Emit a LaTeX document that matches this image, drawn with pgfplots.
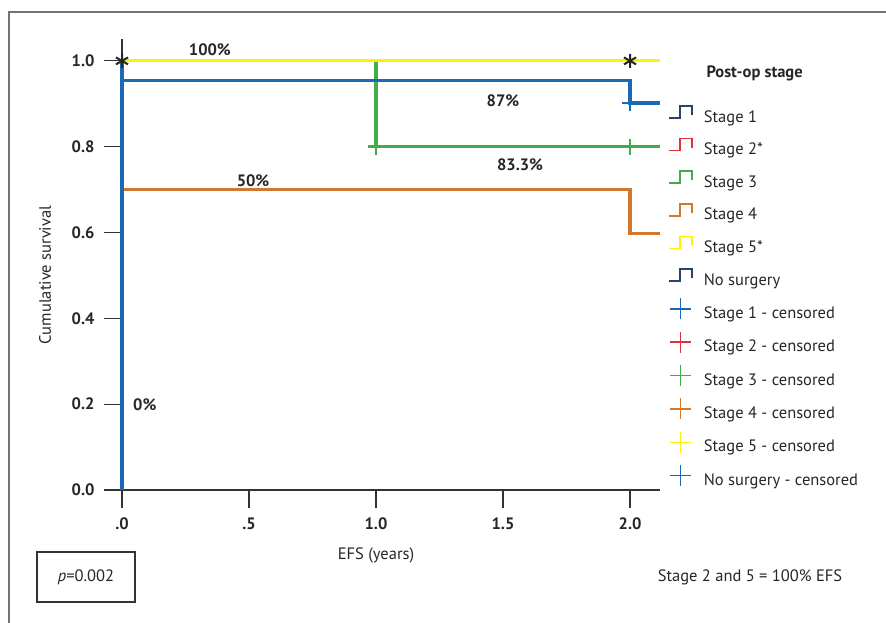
\documentclass[border=0pt]{standalone}
\usepackage{pgfplots}
\pgfplotsset{compat=1.18}
\usepackage{fontspec}
\setmainfont{PT Sans}
\definecolor{cblue}{HTML}{1B68B4}
\definecolor{cnavy}{HTML}{2A4468}
\definecolor{cred}{HTML}{E0313B}
\definecolor{cgreen}{HTML}{3FAE49}
\definecolor{corange}{HTML}{D2792E}
\definecolor{cyellow}{HTML}{FFF200}
\definecolor{caxis}{HTML}{333333}
\newcommand{\fs}{\fontsize{16.5}{19}\selectfont}
\pgfplotsset{
  stepicon/.style={legend image code/.code={%
    \path[draw=none,fill=none] (0pt,-6pt) rectangle (35pt,16pt);
    \draw[line width=1.7pt] (0pt,0pt) -- (11pt,0pt) -- (11pt,12pt) -- (23pt,12pt) -- (23pt,3pt);}},
  plusicon/.style={legend image code/.code={%
    \path[draw=none,fill=none] (0pt,-6pt) rectangle (35pt,16pt);
    \draw[line width=1.5pt] (1pt,5.5pt) -- (22pt,5.5pt) (11.5pt,-5pt) -- (11.5pt,16pt);}},
}
\begin{document}
\begin{tikzpicture}[x=1pt,y=1pt]
\useasboundingbox (0,0) rectangle (886,623);
\draw[black!55, line width=1.2pt] (9,0) -- (9,611) -- (886,611);
\begin{axis}[
  at={(122pt,133pt)}, anchor=south west, scale only axis,
  width=538pt, height=451pt,
  xmin=0, xmax=2.118, ymin=0, ymax=1.051,
  axis lines*=left,
  axis line style={line width=1.2pt, caxis},
  xtick={0,0.5,1,1.5,2},
  xticklabels={\textbf{.0},\textbf{.5},\textbf{1.0},\textbf{1.5},\textbf{2.0}},
  ytick={0,0.2,0.4,0.6,0.8,1},
  yticklabels={\textbf{0.0},\textbf{0.2},\textbf{0.4},\textbf{0.6},\textbf{0.8},\textbf{1.0}},
  tick style={line width=1.2pt, caxis},
  major tick length=18pt,
  tick align=outside,
  tick label style={font=\fs\bfseries, text=black!85},
  xticklabel style={yshift=-6pt},
  yticklabel style={xshift=-6pt},
  /pgf/number format/assume math mode=true,
  clip=false,
  legend style={at={(1.0149,0.8602)}, anchor=north west, draw=none, fill=none,
    inner sep=0pt, outer sep=0pt, row sep=9.6pt, font=\fs,
    nodes={inner sep=0pt, text height=11pt, text depth=3pt, text=black!85}},
  legend cell align=left,
]
% survival curves
\addplot[cgreen, line width=3.2pt, forget plot] coordinates {(0,1) (1,1) (1,0.8) (2.118,0.8)};
\addplot[corange, line width=3.2pt, forget plot] coordinates {(0,1) (0,0.70) (2,0.70) (2,0.597) (2.118,0.597)};
\addplot[cblue, line width=3.2pt, forget plot] coordinates {(0,1) (0,0.955) (2,0.955) (2,0.902) (2.118,0.902)};
\addplot[cyellow, line width=3.2pt, forget plot] coordinates {(0,1) (2.118,1)};
\addplot[cblue, line width=3.2pt, forget plot] coordinates {(0,1) (0,0)};
% censored marks
\addplot[only marks, mark=+, mark size=8pt, cgreen, line width=2.6pt, forget plot] coordinates {(1,0.8) (2,0.8)};
\addplot[only marks, mark=+, mark size=8pt, cblue, line width=2.6pt, forget plot] coordinates {(2,0.902)};
\addplot[only marks, mark=asterisk, mark size=7pt, black!85, line width=2pt, forget plot] coordinates {(0,1) (2,1)};
% annotations
\node[font=\fs\bfseries, text=black!85] at (axis cs:0.346,1.026) {100\%};
\node[font=\fs\bfseries, text=black!85] at (axis cs:1.50,0.907) {87\%};
\node[font=\fs\bfseries, text=black!85] at (axis cs:1.567,0.758) {83.3\%};
\node[font=\fs\bfseries, text=black!85] at (axis cs:0.516,0.72) {50\%};
\node[font=\fs\bfseries, text=black!85, anchor=west] at (axis cs:0.03,0.198) {0\%};
% legend
\addlegendimage{cnavy, stepicon}\addlegendentry{Stage 1}
\addlegendimage{cred, stepicon}\addlegendentry{Stage 2*}
\addlegendimage{cgreen, stepicon}\addlegendentry{Stage 3}
\addlegendimage{corange, stepicon}\addlegendentry{Stage 4}
\addlegendimage{cyellow, stepicon}\addlegendentry{Stage 5*}
\addlegendimage{cnavy, stepicon}\addlegendentry{No surgery}
\addlegendimage{cblue, plusicon}\addlegendentry{Stage 1 - censored}
\addlegendimage{cred, plusicon}\addlegendentry{Stage 2 - censored}
\addlegendimage{cgreen, plusicon}\addlegendentry{Stage 3 - censored}
\addlegendimage{corange, plusicon}\addlegendentry{Stage 4 - censored}
\addlegendimage{cyellow, plusicon}\addlegendentry{Stage 5 - censored}
\addlegendimage{cblue, plusicon}\addlegendentry{No surgery - censored}
\end{axis}
\node[font=\fs\bfseries, text=black!85, anchor=west] at (703,550) {Post-op stage};
\node[font=\fs, text=black!85, rotate=90] at (45,348) {Cumulative survival};
\node[font=\fs, text=black!85] at (376,68) {EFS (years)};
\draw[line width=1.2pt, caxis] (37,21) rectangle (135,71);
\node[font=\fs, text=black!85] at (86,46) {\textit{p}=0.002};
\node[font=\fs, text=black!85] at (750,46) {Stage 2 and 5 = 100\% EFS};
\end{tikzpicture}
\end{document}
